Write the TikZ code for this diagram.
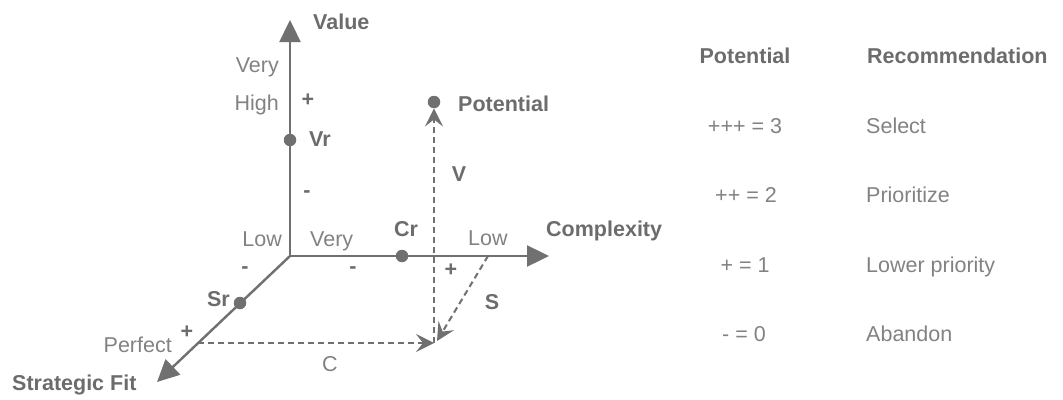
\documentclass[tikz,border=0pt]{standalone}
\usepackage{fontspec}
\setmainfont{Liberation Sans}
\usetikzlibrary{arrows.meta}
\definecolor{axisgray}{RGB}{112,112,112}
\definecolor{txtgray}{RGB}{130,130,130}
\definecolor{boldgray}{RGB}{108,108,108}
\tikzset{
  axisline/.style={draw=axisgray, line width=2.4pt, -{Triangle[length=22pt,width=21pt]}},
  dashline/.style={draw=axisgray, line width=2pt, dash pattern=on 6pt off 4pt,
    -{Stealth[length=18pt,width=18pt,inset=7pt]}},
  lbl/.style={text=txtgray, font=\fontsize{21.5}{25}\selectfont, inner sep=0pt},
  blbl/.style={text=boldgray, font=\fontsize{21.5}{25}\selectfont\bfseries, inner sep=0pt},
  dotnode/.style={circle, fill=axisgray, inner sep=0pt, minimum size=12.5pt},
}
\begin{document}
\begin{tikzpicture}[x=1pt,y=-1pt]
\useasboundingbox (0,0) rectangle (1063,399);
% axes
\coordinate (O) at (290,256);
\coordinate (vtip) at (290,20);
\coordinate (ctip) at (549,256);
\coordinate (stip) at (157,382);
\draw[axisline] (O) -- (vtip);
\draw[axisline] (O) -- (ctip);
\draw[axisline] (O) -- (stip);
% dots
\node[dotnode] (Vr) at (290,140) {};
\node[dotnode] (Cr) at (402,256) {};
\node[dotnode] (Sr) at (240,303) {};
\node[dotnode] (pot) at (434,102) {};
% dashed construction
\coordinate (cstart) at (198,343);
\coordinate (sstart) at (488,256);
\coordinate (conv) at (434,343);
\coordinate (sconv) at (437,341);
\draw[dashline] (cstart) -- (conv);
\draw[dashline] (sstart) -- (sconv);
\draw[dashline] (conv) -- (pot);
% axis labels
\node[blbl, anchor=base west] (lvalue) at (313,29) {Value};
\node[lbl, anchor=base east] (lvery1) at (279,72) {Very};
\node[lbl, anchor=base east] (lhigh) at (279,110) {High};
\node[blbl] (plus1) at (308,100) {+};
\node[blbl, anchor=base west] (lvr) at (309,146) {Vr};
\node[blbl] (minus1) at (307,194) {-};
\node[lbl, anchor=base east] (llow1) at (282,246) {Low};
\node[lbl, anchor=base west] (lvery2) at (310,246) {Very};
\node[blbl] (minus2) at (245,270) {-};
\node[blbl] (minus3) at (353,270) {-};
\node[blbl, anchor=base east] (lsr) at (230,306) {Sr};
\node[blbl] (plus2) at (187,332) {+};
\node[lbl, anchor=base east] (lperfect) at (172,352) {Perfect};
\node[blbl, anchor=base west] (lsf) at (12,390) {Strategic Fit};
\node[lbl, anchor=base] (lc) at (330,371) {C};
\node[blbl, anchor=base west] (lpot) at (458,111) {Potential};
\node[blbl, anchor=base] (lv) at (459,181) {V};
\node[blbl, anchor=base] (lcr) at (406,236) {Cr};
\node[blbl, anchor=base west] (lcomp) at (546,236) {Complexity};
\node[lbl, anchor=base west] (llow2) at (468,245) {Low};
\node[blbl] (plus3) at (451,270) {+};
\node[blbl, anchor=base] (ls) at (492,309) {S};
% table
\node[blbl, anchor=base] (hpot) at (745,63) {Potential};
\node[blbl, anchor=base west] (hrec) at (867,63) {Recommendation};
\node[lbl, anchor=base] (p3) at (745,133) {+++ = 3};
\node[lbl, anchor=base] (p2) at (746,202) {++ = 2};
\node[lbl, anchor=base] (p1) at (745,272) {+ = 1};
\node[lbl, anchor=base] (p0) at (744,341) {- = 0};
\node[lbl, anchor=base west] (r3) at (866,133) {Select};
\node[lbl, anchor=base west] (r2) at (866,202) {Prioritize};
\node[lbl, anchor=base west] (r1) at (866,272) {Lower priority};
\node[lbl, anchor=base west] (r0) at (866,341) {Abandon};
\end{tikzpicture}
\end{document}
